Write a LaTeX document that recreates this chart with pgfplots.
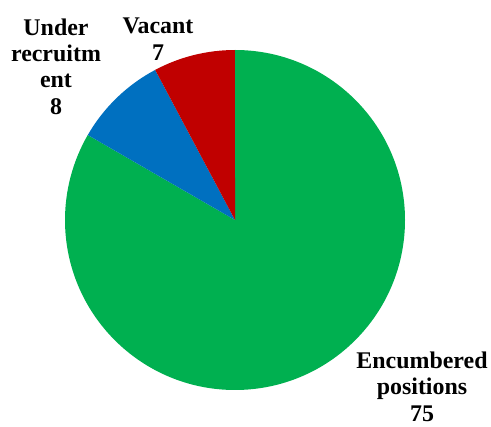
\documentclass[border=0pt]{standalone}
\usepackage{fontspec}
\setmainfont{Liberation Serif}
\usepackage{pgfplots}
\usepackage{pgfplotstable}
\pgfplotsset{compat=1.18}
\definecolor{encgreen}{RGB}{0,176,80}
\definecolor{recblue}{RGB}{0,112,192}
\definecolor{vacred}{RGB}{192,0,0}
\pgfplotstableread{
label value
Encumbered 75
Recruitment 8
Vacant 7
}\piedata
\begin{document}
\begin{tikzpicture}
\pgfplotstablegetelem{0}{value}\of\piedata \edef\va{\pgfplotsretval}
\pgfplotstablegetelem{1}{value}\of\piedata \edef\vb{\pgfplotsretval}
\pgfplotstablegetelem{2}{value}\of\piedata \edef\vc{\pgfplotsretval}
\pgfmathsetmacro\total{\va+\vb+\vc}
\pgfmathsetmacro\aA{90-360*(\va/\total)}
\pgfmathsetmacro\aB{\aA-360*(\vb/\total)}
\pgfmathsetmacro\aC{\aB-360*(\vc/\total)}
\begin{axis}[width=491bp,height=427bp,scale only axis,hide axis,
  xmin=0,xmax=491,ymin=0,ymax=427,clip=false]
\coordinate (SW) at (rel axis cs:0,0);
\coordinate (NE) at (rel axis cs:1,1);
\fill[encgreen] (axis cs:235,207) -- ++(90:170bp) arc[start angle=90,end angle=\aA,radius=170bp] -- cycle;
\fill[recblue] (axis cs:235,207) -- ++(\aA:170bp) arc[start angle=\aA,end angle=\aB,radius=170bp] -- cycle;
\fill[vacred] (axis cs:235,207) -- ++(\aB:170bp) arc[start angle=\aB,end angle=\aC,radius=170bp] -- cycle;
\tikzset{lbl/.style={align=center,inner sep=0pt,font=\bfseries\fontsize{24}{26.5}\selectfont}}
\node[lbl] at (axis cs:56,360.5) {Under\\recruitm\\ent\\\vb};
\node[lbl] at (axis cs:158,388) {Vacant\\\vc};
\node[lbl] at (axis cs:422,40.5) {Encumbered\\positions\\\va};
\end{axis}
\pgfresetboundingbox
\path[use as bounding box] (SW) rectangle (NE);
\end{tikzpicture}
\end{document}
